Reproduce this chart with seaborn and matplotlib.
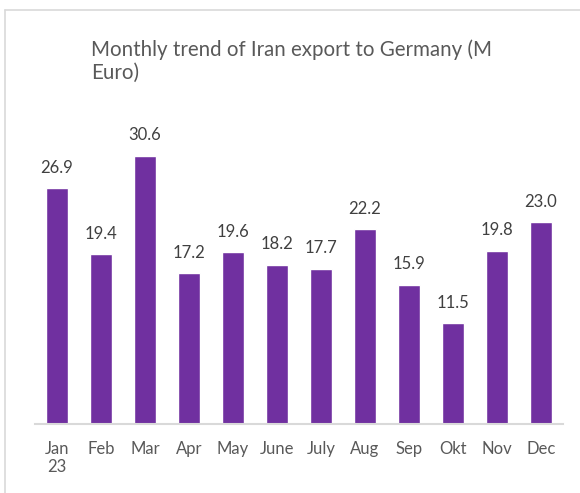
import matplotlib
matplotlib.use("Agg")
import matplotlib.pyplot as plt
from matplotlib.lines import Line2D
import seaborn as sns

months = ["Jan\n23", "Feb", "Mar", "Apr", "May", "June", "July", "Aug", "Sep", "Okt", "Nov", "Dec"]
values = [26.9, 19.4, 30.6, 17.2, 19.6, 18.2, 17.7, 22.2, 15.9, 11.5, 19.8, 23.0]

sns.set_theme(style="white")
plt.rcParams['font.family'] = ['Lato', 'DejaVu Sans']

fig = plt.figure(figsize=(5.8, 4.93), dpi=100)
ax = fig.add_axes([0.0603, 0.14, 0.9103, 0.622])

sns.barplot(x=months, y=values, color="#7030A0", saturation=1, width=0.5, ax=ax)
ax.set_xlim(-0.5, len(months) - 0.5)
ax.set_ylim(0, 35)

for i, v in enumerate(values):
    ax.annotate(f"{v:.1f}", (i, v), xytext=(0, 9), textcoords="offset points",
                ha="center", va="bottom", fontsize=12, color="#404040")

for s in ["top", "right", "left"]:
    ax.spines[s].set_visible(False)
ax.spines["bottom"].set_color("#D9D9D9")
ax.spines["bottom"].set_linewidth(1.5)
ax.set_yticks([])
ax.tick_params(axis="x", length=0, pad=12, labelsize=12, labelcolor="#595959")
ax.set_xlabel("")
ax.set_ylabel("")

fig.text(0.157, 0.92, "Monthly trend of Iran export to Germany (M\nEuro)",
         ha="left", va="top", fontsize=14.8, color="#595959", linespacing=1.15)

# chart-area border (only top and left visible in the crop)
fig.add_artist(Line2D([0.009, 1.0], [0.98, 0.98], color="#D9D9D9", lw=1.2, transform=fig.transFigure))
fig.add_artist(Line2D([0.009, 0.009], [0.0, 0.98], color="#D9D9D9", lw=1.2, transform=fig.transFigure))

fig.savefig("out.png", dpi=100)
